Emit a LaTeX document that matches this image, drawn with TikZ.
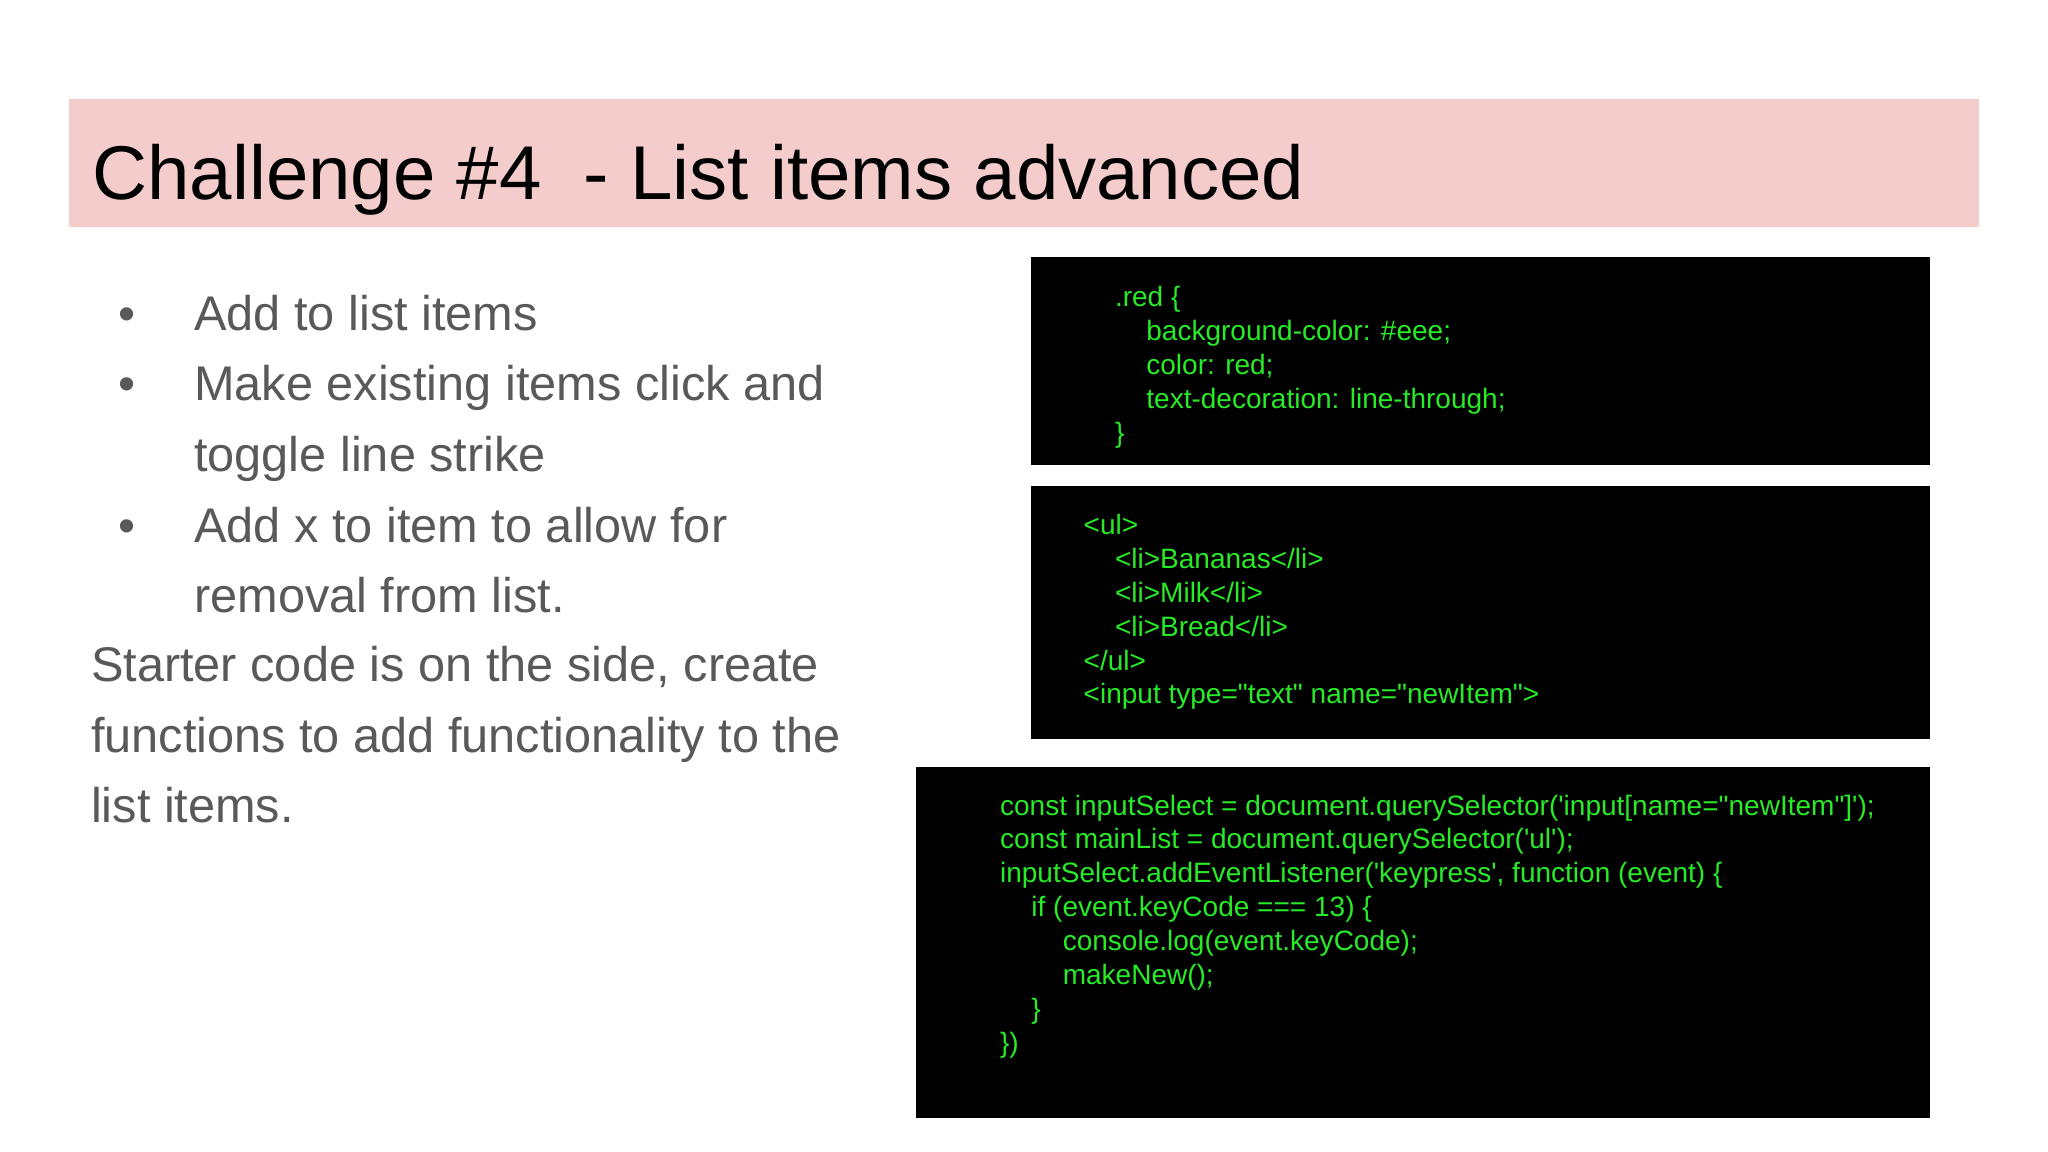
\documentclass[tikz,border=0pt]{standalone}
\usepackage{fontspec}
\setmainfont{Liberation Sans}
\newfontfamily\codefont{Liberation Sans}
\usetikzlibrary{positioning}
\definecolor{slidepink}{RGB}{244,204,204}
\definecolor{bodygray}{RGB}{89,89,89}
\definecolor{codegreen}{RGB}{40,235,40}

\begin{document}
\begin{tikzpicture}[x=0.01cm,y=-0.01cm,
  txt/.style={anchor=base west,inner sep=0pt,text=bodygray,font=\fontsize{10.6}{13}\selectfont},
  code/.style={anchor=base west,inner sep=0pt,text=codegreen,font=\codefont\fontsize{6.1}{7}\selectfont}]
\useasboundingbox (0,0) rectangle (1568,882);
\fill [white] (0,0) rectangle (1568,882);

% title bar
\fill [slidepink] (53,76) rectangle (1515,174);
\node [anchor=base west,inner sep=0pt,font=\fontsize{16.6}{20}\selectfont] (title) at (70,153) {Challenge \#4 \ - List items advanced};

% left text
\foreach \y in {253,307,415}
  \node [txt] at (90,\y) {\textbullet};
\node [txt] (b1) at (148,253) {Add to list items};
\node [txt] (b2) at (148,307) {Make existing items click and};
\node [txt] (b2b) at (148,361) {toggle line strike};
\node [txt] (b3) at (148,415) {Add x to item to allow for};
\node [txt] (b3b) at (148,469) {removal from list.};
\node [txt] (p1) at (69,522) {Starter code is on the side, create};
\node [txt] (p2) at (69,576) {functions to add functionality to the};
\node [txt] (p3) at (69,630) {list items.};

% code boxes
\fill [black] (789,197) rectangle (1478,356);
\fill [black] (789,372) rectangle (1478,566);
\fill [black] (701,587) rectangle (1478,856);

\node [code] (c1) at (853,235) {.red \{};
\node [code] (c2) at (877,261) {background-color: \#eee;};
\node [code] (c3) at (877,287) {color: red;};
\node [code] (c4) at (877,313) {text-decoration: line-through;};
\node [code] (c5) at (853,339) {\}};

\node [code] (h1) at (829,409) {<ul>};
\node [code] (h2) at (853,435) {<li>Bananas</li>};
\node [code] (h3) at (853,461) {<li>Milk</li>};
\node [code] (h4) at (853,487) {<li>Bread</li>};
\node [code] (h5) at (829,513) {</ul>};
\node [code] (h6) at (829,539) {<input type="text" name="newItem">};

\node [code] (j1) at (765,624) {const inputSelect = document.querySelector('input[name="newItem"]');};
\node [code] (j2) at (765,650) {const mainList = document.querySelector('ul');};
\node [code] (j3) at (765,676) {inputSelect.addEventListener('keypress', function (event) \{};
\node [code] (j4) at (789,702) {if (event.keyCode === 13) \{};
\node [code] (j5) at (813,728) {console.log(event.keyCode);};
\node [code] (j6) at (813,754) {makeNew();};
\node [code] (j7) at (789,780) {\}};
\node [code] (j8) at (765,806) {\})};
\end{tikzpicture}
\end{document}
